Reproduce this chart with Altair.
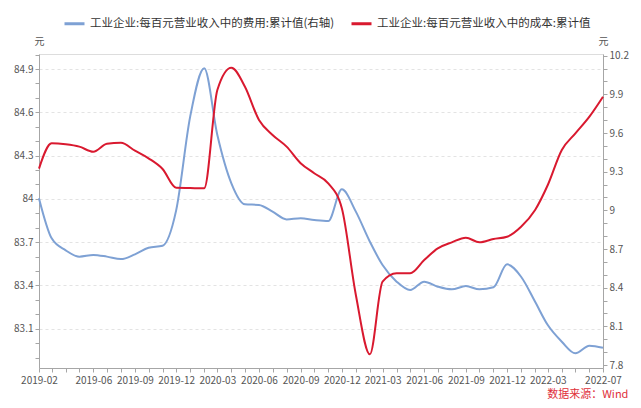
import altair as alt
import pandas as pd

months = [
    "2019-02", "2019-03", "2019-04", "2019-05", "2019-06", "2019-07", "2019-08",
    "2019-09", "2019-10", "2019-11", "2019-12", "2020-01", "2020-02", "2020-03",
    "2020-04", "2020-05", "2020-06", "2020-07", "2020-08", "2020-09", "2020-10",
    "2020-11", "2020-12", "2021-01", "2021-02", "2021-03", "2021-04", "2021-05",
    "2021-06", "2021-07", "2021-08", "2021-09", "2021-10", "2021-11", "2021-12",
    "2022-01", "2022-02", "2022-03", "2022-04", "2022-05", "2022-06", "2022-07",
]

# 成本 (left axis)
cost = [
    84.21, 84.385, 84.378, 84.362, 84.327, 84.382, 84.389, 84.334, 84.281, 84.207,
    84.077, 84.075, 84.073, 84.755, 84.909, 84.777, 84.547, 84.443, 84.362, 84.247,
    84.178, 84.108, 83.935, 83.334, 82.923, 83.426, 83.484, 83.484, 83.576, 83.657,
    83.699, 83.731, 83.699, 83.722, 83.738, 83.807, 83.923, 84.096, 84.339, 84.454,
    84.57, 84.708,
]

# 费用 (right axis)
expense = [
    9.093, 8.783, 8.69, 8.641, 8.654, 8.641, 8.622, 8.659, 8.71, 8.726,
    9.0, 9.727, 10.102, 9.585, 9.21, 9.047, 9.042, 8.99, 8.93, 8.938,
    8.925, 8.917, 9.163, 8.99, 8.757, 8.576, 8.447, 8.382, 8.447, 8.408,
    8.387, 8.413, 8.387, 8.403, 8.581, 8.485, 8.291, 8.11, 7.981, 7.891,
    7.95, 7.934,
]

x_labels = [
    "2019-02", "2019-06", "2019-09", "2019-12", "2020-03", "2020-06", "2020-09",
    "2020-12", "2021-03", "2021-06", "2021-09", "2021-12", "2022-03", "2022-07",
]

left_ticks = [round(82.9 + 0.1 * i, 1) for i in range(22)]
right_ticks = [round(7.8 + 0.1 * i, 1) for i in range(25)]

name_exp = "工业企业:每百元营业收入中的费用:累计值(右轴)"
name_cost = "工业企业:每百元营业收入中的成本:累计值"

BLUE = "#7ea1d4"
RED = "#d9192f"
FONT = "Noto Sans CJK SC"
AXIS_GRAY = "#a6a6a6"
LABEL_GRAY = "#555555"

df_cost = pd.DataFrame({"date": [m + "-01" for m in months], "value": cost, "series": name_cost})
df_exp = pd.DataFrame({"date": [m + "-01" for m in months], "value": expense, "series": name_exp})

label_list = "[" + ",".join("'" + s + "'" for s in x_labels) + "]"
x_values = [alt.DateTime(year=int(m[:4]), month=int(m[5:]), date=1, utc=True) for m in months]

x_enc = alt.X(
    "date:T",
    scale=alt.Scale(type="utc", nice=False),
    title=None,
    axis=alt.Axis(
        values=x_values,
        labelExpr=f"indexof({label_list}, utcFormat(datum.value, '%Y-%m')) >= 0 ? utcFormat(datum.value, '%Y-%m') : ''",
        labelOverlap=False,
        labelFlush=False,
        grid=False,
        tickSize=4,
        tickColor=AXIS_GRAY,
        domainColor=AXIS_GRAY,
        labelColor=LABEL_GRAY,
        labelFontSize=10,
        labelFont=FONT,
        labelPadding=3,
    ),
)

color_enc = alt.Color(
    "series:N",
    scale=alt.Scale(domain=[name_exp, name_cost], range=[BLUE, RED]),
    legend=alt.Legend(
        title=None,
        orient="none",
        legendX=24,
        legendY=-42,
        direction="horizontal",
        symbolType="stroke",
        symbolSize=400,
        symbolStrokeWidth=3,
        labelFontSize=11.5,
        labelFont=FONT,
        labelColor="#333333",
        labelLimit=400,
        columnPadding=10,
        labelOffset=4,
    ),
)

def yaxis(orient, ticks, grid):
    kw = dict(
        orient=orient,
        values=ticks,
        labelExpr="round(datum.value * 10) % 3 == 0 ? format(datum.value, '.3~r') : ''",
        labelOverlap=False,
        tickSize=4,
        tickColor=AXIS_GRAY,
        domainColor=AXIS_GRAY,
        labelColor=LABEL_GRAY,
        labelFontSize=10,
        labelFont=FONT,
        labelPadding=2,
        title="元",
        titleAngle=0,
        titleX=0,
        titleY=-8,
        titleAlign="center",
        titleBaseline="bottom",
        titleFontSize=10,
        titleFontWeight="normal",
        titleColor=LABEL_GRAY,
        titleFont=FONT,
        grid=grid,
    )
    if grid:
        kw["gridOpacity"] = {"condition": {"test": "round(datum.value * 10) % 3 == 0", "value": 1}, "value": 0}
        kw["gridDash"] = [3, 3]
        kw["gridColor"] = "#e3e3e3"
    return alt.Axis(**kw)

red = alt.Chart(df_cost).mark_line(interpolate="monotone", strokeWidth=2).encode(
    x=x_enc,
    y=alt.Y("value:Q", scale=alt.Scale(domain=[82.828, 85.004], nice=False, zero=False),
            axis=yaxis("left", left_ticks, True)),
    color=color_enc,
)

blue = alt.Chart(df_exp).mark_line(interpolate="monotone", strokeWidth=2).encode(
    x=x_enc,
    y=alt.Y("value:Q", scale=alt.Scale(domain=[7.777, 10.213], nice=False, zero=False),
            axis=yaxis("right", right_ticks, False)),
    color=color_enc,
)

chart = alt.layer(blue, red).resolve_scale(y="independent").properties(
    width=564,
    height=314,
    autosize=alt.AutoSizeParams(type="none"),
    padding={"left": 31, "top": 46, "right": 30, "bottom": 32},
    title=alt.TitleParams(
        text="数据来源：Wind",
        orient="bottom",
        anchor="end",
        color="#e0303a",
        fontSize=11,
        fontWeight="normal",
        font=FONT,
        offset=4,
    ),
).configure_view(stroke=None).configure(font=FONT, background="white")

chart.save("out.html", embed_options={"renderer": "svg", "actions": False})
